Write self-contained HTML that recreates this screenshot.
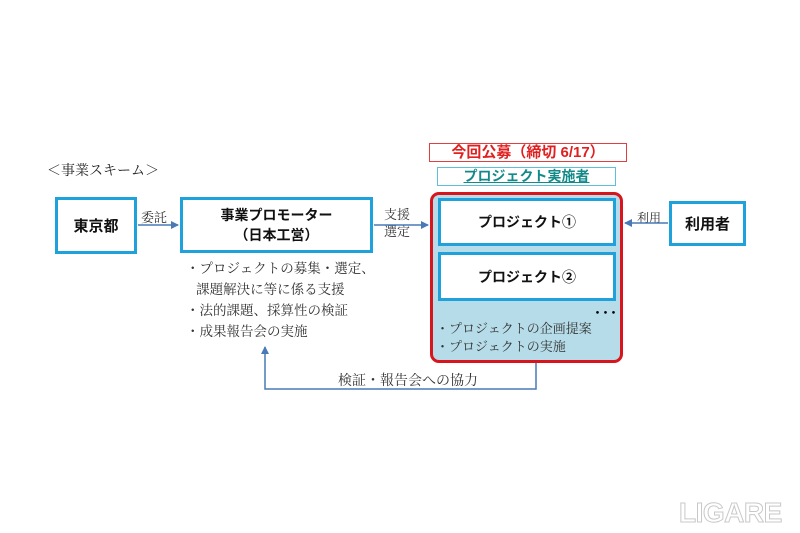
<!DOCTYPE html>
<html><head><meta charset="utf-8"><style>
body{margin:0;width:800px;height:533px;background:#fff;position:relative;overflow:hidden;font-family:"Liberation Sans","Noto Sans CJK JP",sans-serif;}
.a{position:absolute;}
.box{position:absolute;box-sizing:border-box;border:3px solid #1fa1dc;background:#fff;display:flex;align-items:center;justify-content:center;text-align:center;font-weight:bold;color:#111;}
.ser{font-family:"Liberation Serif","Noto Serif CJK SC",serif;color:#333;}
</style></head><body>
<div class="a ser" style="left:47px;top:160px;font-size:14px;color:#222">＜事業スキーム＞</div>

<div class="box" style="left:55px;top:197px;width:82px;height:57px;font-size:15px">東京都</div>
<div class="box" style="left:180px;top:197px;width:193px;height:56px;font-size:14px;line-height:20px">事業プロモーター<br>（日本工営）</div>

<div class="a ser" style="left:141px;top:207px;font-size:13px">委託</div>
<div class="a ser" style="left:384px;top:206px;font-size:13px;line-height:17px">支援<br>選定</div>

<div class="a ser" style="left:186px;top:258px;font-size:13.5px;line-height:21px">・プロジェクトの募集・選定、<br>&nbsp;&nbsp;&nbsp;課題解決に等に係る支援<br>・法的課題、採算性の検証<br>・成果報告会の実施</div>

<div class="a" style="left:429px;top:143px;width:198px;height:19px;box-sizing:border-box;border:1px solid #e04040;color:#e02020;font-weight:bold;font-size:15px;text-align:center;line-height:17px">今回公募（締切 6/17）</div>
<div class="a" style="left:437px;top:167px;width:179px;height:19px;box-sizing:border-box;border:1px solid #5cc0d8;color:#138a8a;font-weight:bold;font-size:14px;text-align:center;line-height:17px;text-decoration:underline">プロジェクト実施者</div>

<div class="a" style="left:430px;top:192px;width:193px;height:171px;box-sizing:border-box;border:3px solid #d8141c;border-radius:9px;background:#b5dce8"></div>
<div class="box" style="left:438px;top:198px;width:178px;height:48px;font-size:14px">プロジェクト①</div>
<div class="box" style="left:438px;top:252px;width:178px;height:49px;font-size:14px">プロジェクト②</div>
<div class="a" style="left:594px;top:303px;font-size:14px;font-weight:bold;letter-spacing:1px">･･･</div>
<div class="a ser" style="left:436px;top:320px;font-size:13px;line-height:18px">・プロジェクトの企画提案<br>・プロジェクトの実施</div>

<div class="box" style="left:669px;top:201px;width:77px;height:45px;font-size:15px">利用者</div>
<div class="a ser" style="left:637px;top:209px;font-size:12px">利用</div>

<div class="a ser" style="left:338px;top:370px;font-size:14px">検証・報告会への協力</div>

<svg class="a" style="left:0;top:0" width="800" height="533">
<defs><marker id="ar" markerWidth="8" markerHeight="8" refX="7" refY="4" orient="auto" markerUnits="userSpaceOnUse"><path d="M0,0 L8,4 L0,8 Z" fill="#4a7ab5"/></marker></defs>
<g stroke="#4a7ab5" stroke-width="1.5" fill="none">
<line x1="138" y1="225" x2="178" y2="225" marker-end="url(#ar)"/>
<line x1="374" y1="225" x2="428" y2="225" marker-end="url(#ar)"/>
<line x1="668" y1="223" x2="625" y2="223" marker-end="url(#ar)"/>
<polyline points="536,363 536,389 265,389 265,347" marker-end="url(#ar)"/>
</g>
</svg>

<div class="a" style="left:679px;top:497px;font-size:28px;font-weight:bold;color:#fff;letter-spacing:-0.5px;-webkit-text-stroke:1px #c8c8c8">LIGARE</div>
</body></html>
